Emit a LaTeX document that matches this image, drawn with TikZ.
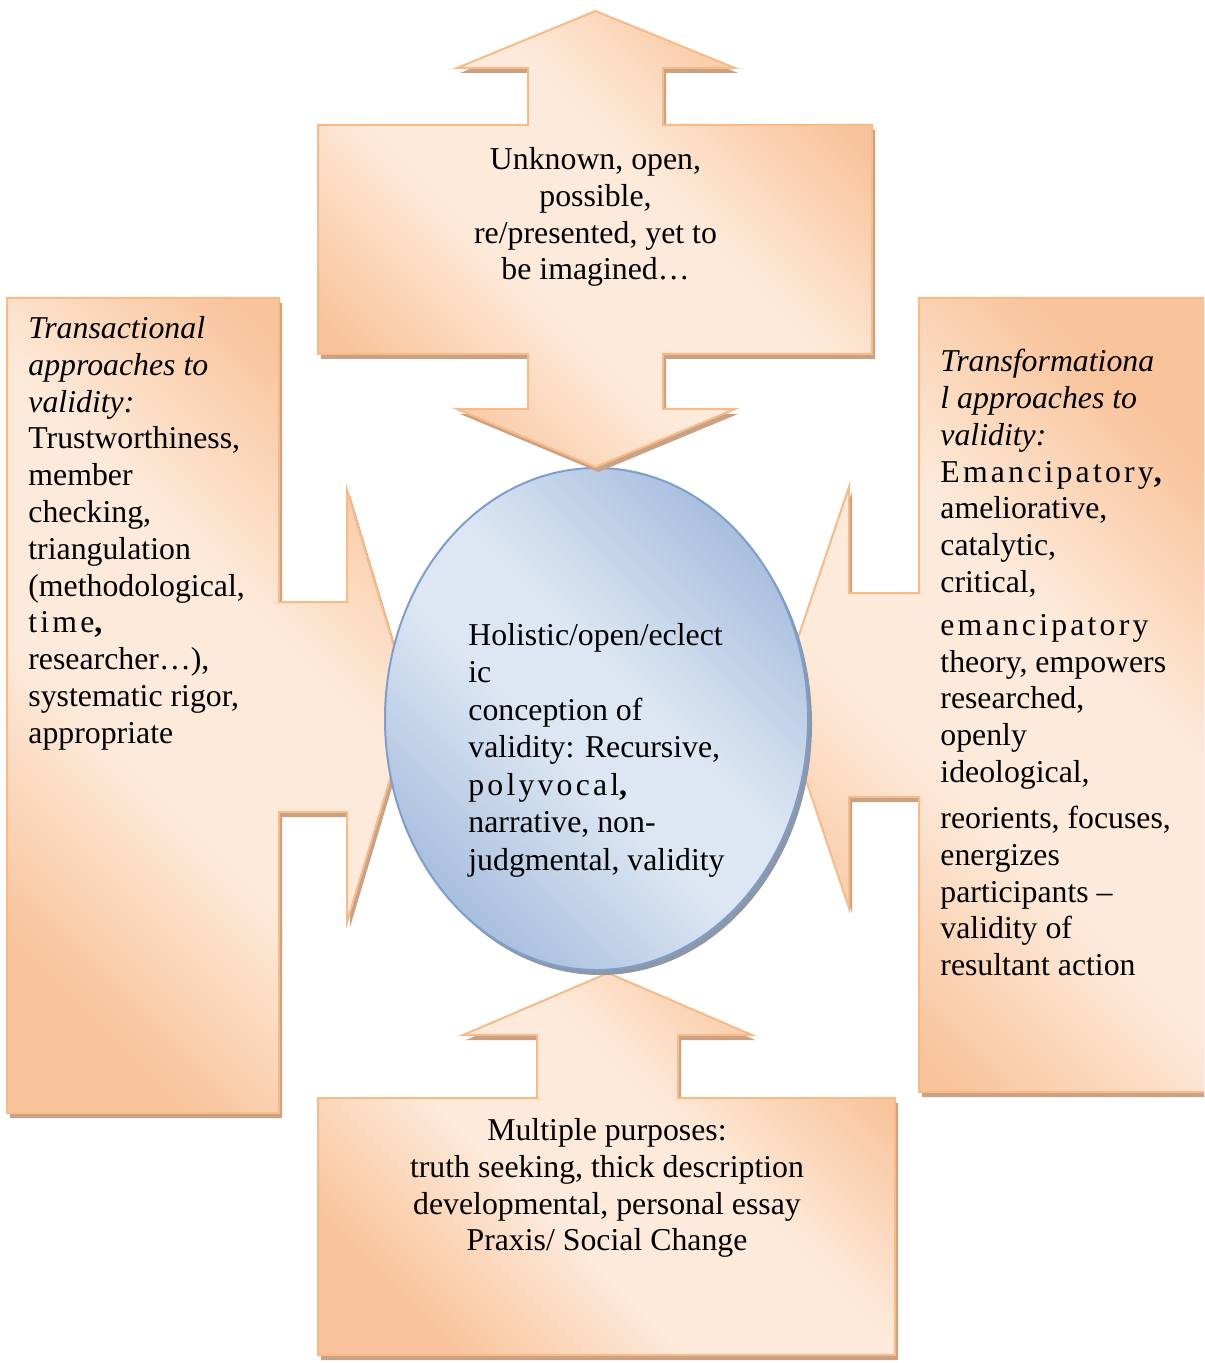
\documentclass[tikz,border=0pt]{standalone}
\usepackage{fontspec}
\setmainfont{Liberation Serif}
\usetikzlibrary{shapes.geometric,shadows}
\definecolor{peachdark}{HTML}{F9C49B}
\definecolor{peachlight}{HTML}{FDEADA}
\definecolor{peachline}{HTML}{F8BB88}
\definecolor{peachshadow}{HTML}{C9A184}
\definecolor{bluedark}{HTML}{A8BFDE}
\definecolor{bluelight}{HTML}{DDE7F3}
\definecolor{blueline}{HTML}{7F9ECD}
\definecolor{blueshadow}{HTML}{8E97A6}
\pgfdeclarehorizontalshading{peachfade}{100bp}{color(0bp)=(peachdark); color(25bp)=(peachdark); color(42bp)=(peachlight); color(58bp)=(peachlight); color(75bp)=(peachdark); color(100bp)=(peachdark)}
\pgfdeclarehorizontalshading{bluefade}{100bp}{color(0bp)=(bluedark); color(25bp)=(bluedark); color(45bp)=(bluelight); color(55bp)=(bluelight); color(75bp)=(bluedark); color(100bp)=(bluedark)}
\newcommand{\spaced}[1]{{\addfontfeature{LetterSpace=10}#1}}

\begin{document}
\begin{tikzpicture}[x=0.5pt, y=-0.5pt,
    arrowshape/.style={draw=peachline, line width=1pt, shading=peachfade, shading angle=45,
        drop shadow={shadow xshift=1.5pt, shadow yshift=-2.5pt, fill=peachshadow, opacity=1}},
    blob/.style={ellipse, draw=blueline, line width=1pt, shading=bluefade, shading angle=45,
        minimum width=211.5pt, minimum height=251pt, inner sep=0pt,
        drop shadow={shadow xshift=2pt, shadow yshift=-2.5pt, fill=blueshadow, opacity=1}},
    boxtext/.style={inner sep=0pt, font=\fontsize{15.9}{18.4}\selectfont}]
    \useasboundingbox (0,0) rectangle (1204,1363);
    \clip (0,0) rectangle (1204,1363);

    \path[arrowshape] (7,298) -- (279,298) -- (279,602) -- (347,602) -- (347,490) -- (412,706) -- (347,922) -- (347,812) -- (279,812) -- (279,1113) -- (7,1113) -- cycle;
    \path[arrowshape] (1212,298) -- (919,298) -- (919,593) -- (849,593) -- (849,487) -- (778,697) -- (849,908) -- (849,797) -- (919,797) -- (919,1092) -- (1212,1092) -- cycle;
    \path[arrowshape] (318,1355) -- (318,1098) -- (537,1098) -- (537,1035) -- (463,1035) -- (608,973) -- (752,1035) -- (678,1035) -- (678,1098) -- (895,1098) -- (895,1355) -- cycle;
    \node[blob] (holistic) at (596.5,719) {};
    \path[arrowshape] (595.5,11) -- (735,68) -- (663,68) -- (663,125) -- (872,125) -- (872,354) -- (663,354) -- (663,409) -- (735,409) -- (595.5,467) -- (457,409) -- (528,409) -- (528,354) -- (318,354) -- (318,125) -- (528,125) -- (528,68) -- (457,68) -- cycle;

    \node[boxtext, anchor=north, align=center] (unknown) at (595.5,147) {Unknown, open,\\ possible,\\ re/presented, yet to\\ be imagined…};
    \node[boxtext, anchor=north west, align=left] (transactional) at (28,316) {\textit{Transactional}\\ \textit{approaches to}\\ \textit{validity:}\\ Trustworthiness,\\ member\\ checking,\\ triangulation\\ (methodological,\\ \spaced{time}\textbf{,}\\ researcher…),\\ systematic rigor,\\ appropriate};
    \node[boxtext, anchor=north west, align=left] (transformational) at (940,349) {\textit{Transformationa}\\ \textit{l approaches to}\\ \textit{validity:}\\ \spaced{Emancipatory}\textbf{,}\\ ameliorative,\\ catalytic,\\ critical,\\[3pt] \spaced{emancipatory}\\ theory, empowers\\ researched,\\ openly\\ ideological,\\[4.5pt] reorients, focuses,\\ energizes\\ participants –\\ validity of\\ resultant action};
    \node[boxtext, anchor=north west, align=left, font=\fontsize{15.9}{18.75}\selectfont] (conception) at (468,623) {Holistic/open/eclect\\ ic\\ conception of\\ validity: Recursive,\\ \spaced{polyvocal}\textbf{,}\\ narrative, non-\\ judgmental, validity};
    \node[boxtext, anchor=north, align=center] (purposes) at (607,1118) {Multiple purposes:\\ truth seeking, thick description\\ developmental, personal essay\\ Praxis/ Social Change};
\end{tikzpicture}
\end{document}
